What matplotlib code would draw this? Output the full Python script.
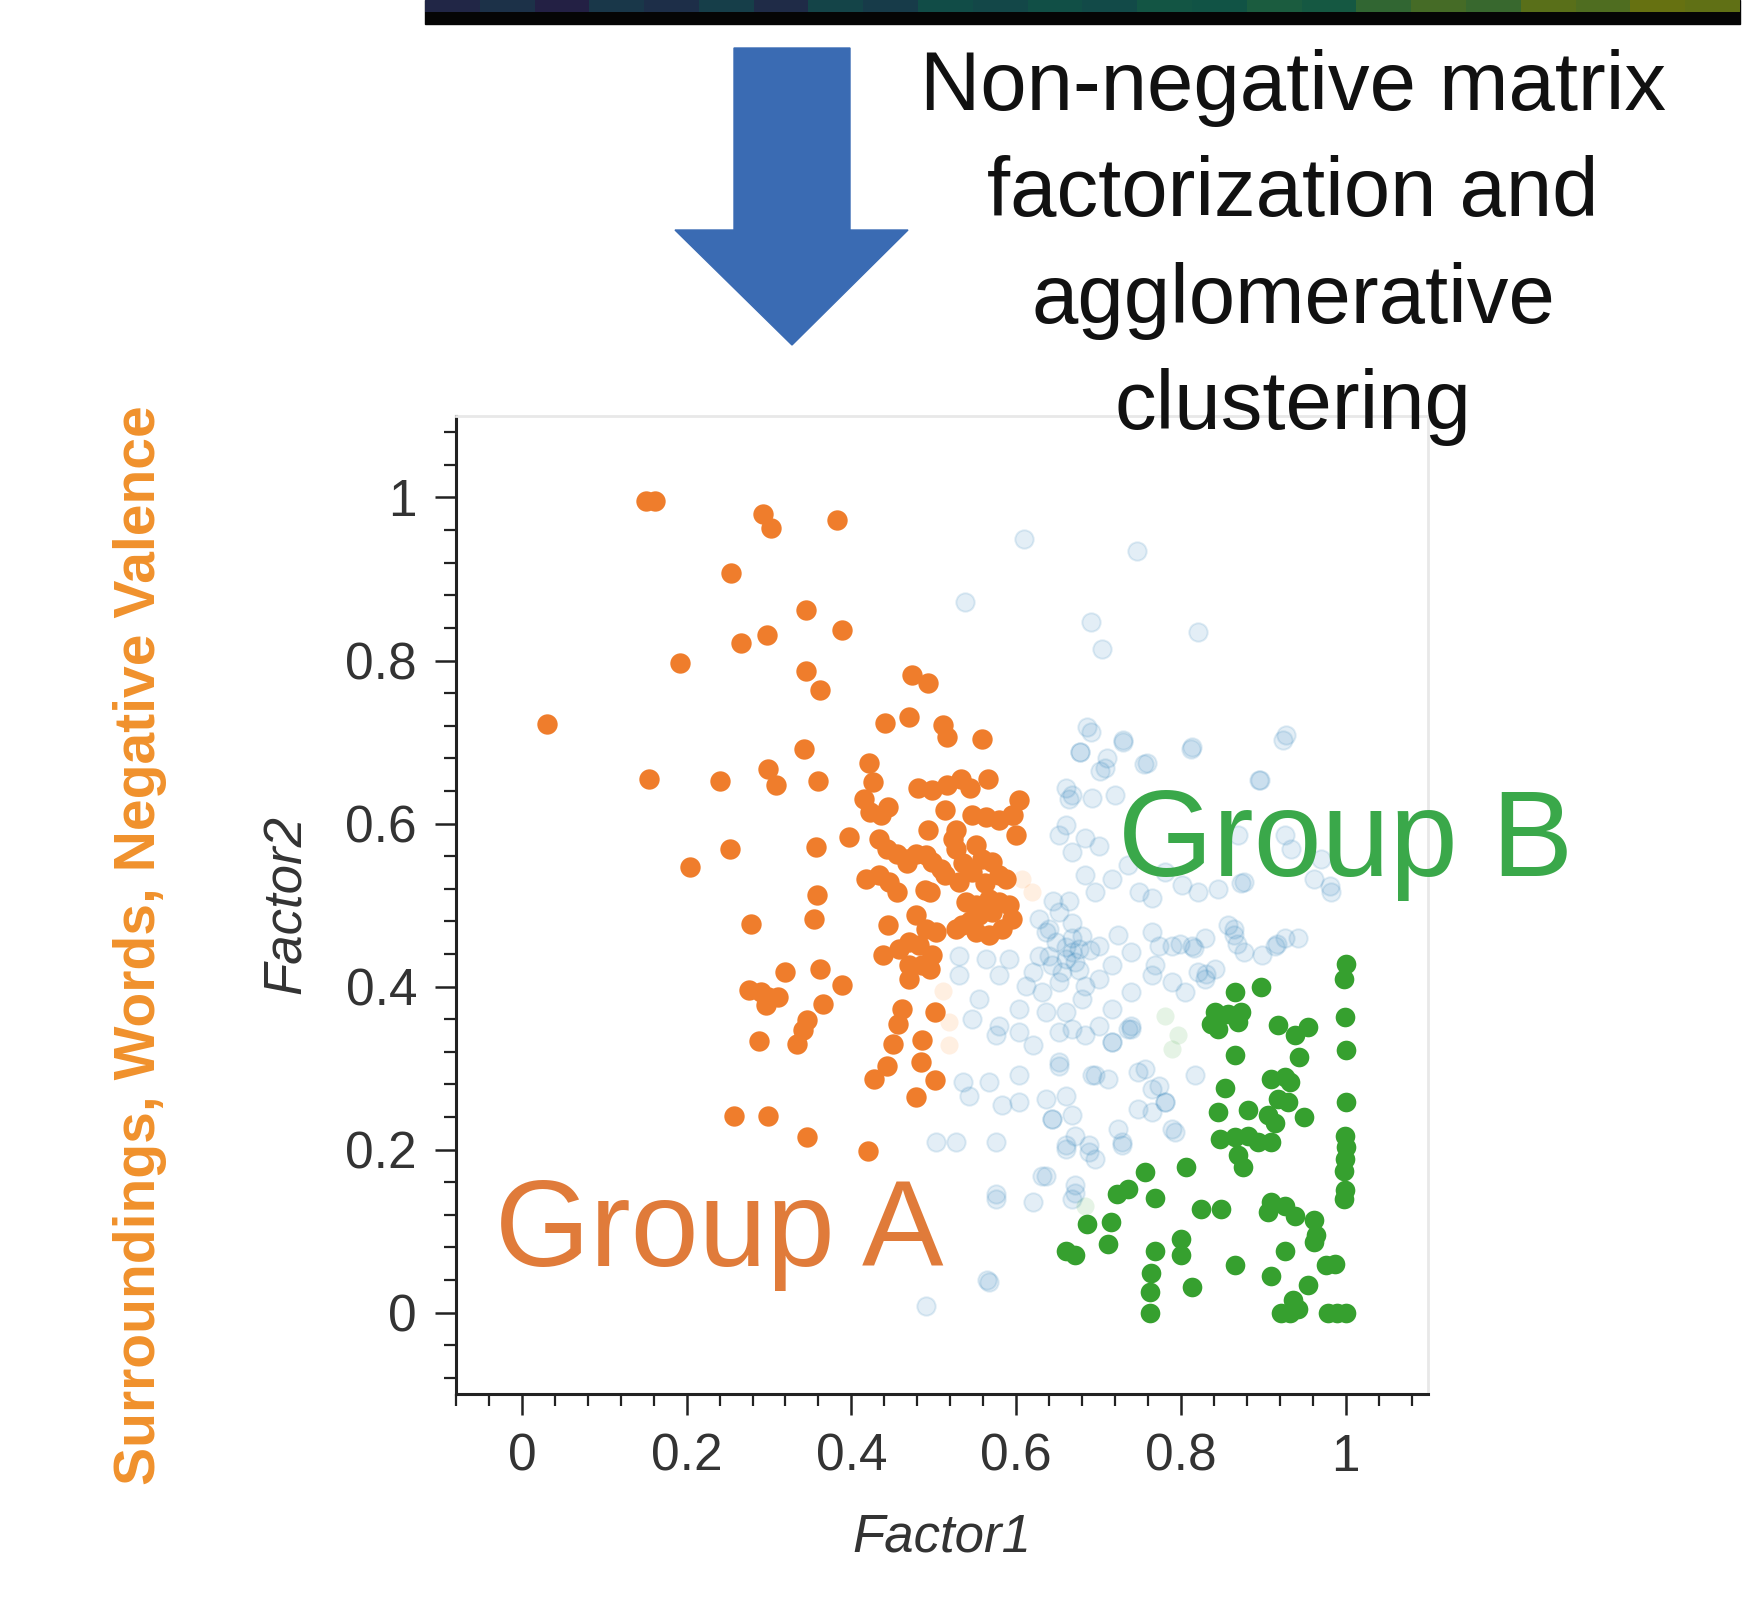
import matplotlib
matplotlib.use("Agg")
import matplotlib.pyplot as plt
from matplotlib.patches import Polygon, Rectangle
from matplotlib.ticker import MultipleLocator, FuncFormatter

plt.rcParams['font.family'] = ['Liberation Sans', 'DejaVu Sans']

# cluster A (orange)
orange_x = [0.030, 0.151, 0.162, 0.293, 0.303, 0.383, 0.254, 0.345, 0.388, 0.266, 0.297, 0.192,
            0.345, 0.362, 0.474, 0.493, 0.441, 0.470, 0.511, 0.516, 0.559, 0.342, 0.154, 0.241,
            0.299, 0.309, 0.360, 0.421, 0.426, 0.415, 0.422, 0.445, 0.436, 0.481, 0.498, 0.516,
            0.533, 0.544, 0.566, 0.514, 0.603, 0.596, 0.600, 0.547, 0.563, 0.579, 0.595, 0.527,
            0.493, 0.397, 0.253, 0.357, 0.204, 0.434, 0.443, 0.455, 0.467, 0.479, 0.491, 0.498,
            0.523, 0.527, 0.551, 0.559, 0.571, 0.509, 0.579, 0.588, 0.531, 0.547, 0.418, 0.434,
            0.446, 0.455, 0.495, 0.358, 0.355, 0.539, 0.551, 0.567, 0.579, 0.591, 0.571, 0.555,
            0.534, 0.551, 0.567, 0.583, 0.595, 0.479, 0.491, 0.503, 0.444, 0.527, 0.278, 0.438,
            0.458, 0.470, 0.482, 0.470, 0.486, 0.498, 0.495, 0.470, 0.319, 0.362, 0.389, 0.276,
            0.290, 0.299, 0.311, 0.296, 0.365, 0.346, 0.341, 0.334, 0.288, 0.462, 0.456, 0.450,
            0.443, 0.428, 0.501, 0.486, 0.484, 0.501, 0.478, 0.258, 0.299, 0.346, 0.420, 0.489,
            0.562, 0.544, 0.514, 0.467, 0.536]
orange_y = [0.722, 0.996, 0.996, 0.980, 0.963, 0.972, 0.907, 0.862, 0.838, 0.821, 0.831, 0.797,
            0.787, 0.764, 0.782, 0.773, 0.723, 0.731, 0.721, 0.706, 0.704, 0.692, 0.655, 0.652,
            0.667, 0.647, 0.652, 0.674, 0.651, 0.630, 0.614, 0.620, 0.611, 0.643, 0.641, 0.647,
            0.655, 0.643, 0.655, 0.617, 0.629, 0.611, 0.586, 0.611, 0.608, 0.604, 0.611, 0.592,
            0.592, 0.583, 0.569, 0.571, 0.547, 0.581, 0.569, 0.563, 0.556, 0.563, 0.561, 0.553,
            0.581, 0.569, 0.574, 0.557, 0.553, 0.544, 0.537, 0.532, 0.528, 0.541, 0.532, 0.537,
            0.528, 0.516, 0.516, 0.512, 0.483, 0.504, 0.500, 0.507, 0.504, 0.500, 0.491, 0.488,
            0.475, 0.467, 0.463, 0.471, 0.483, 0.488, 0.470, 0.467, 0.475, 0.470, 0.477, 0.439,
            0.446, 0.455, 0.451, 0.426, 0.426, 0.439, 0.421, 0.409, 0.418, 0.421, 0.402, 0.396,
            0.393, 0.387, 0.387, 0.377, 0.378, 0.359, 0.347, 0.330, 0.333, 0.372, 0.354, 0.330,
            0.302, 0.287, 0.369, 0.334, 0.307, 0.285, 0.264, 0.241, 0.241, 0.215, 0.198, 0.518,
            0.527, 0.480, 0.537, 0.552, 0.552]

# cluster B (green)
green_x = [1.000, 0.998, 0.999, 1.000, 1.000, 0.999, 1.000, 0.999, 0.998, 0.999, 0.998,
           0.866, 0.897, 0.842, 0.857, 0.873, 0.845, 0.869, 0.837, 0.918, 0.954, 0.938, 0.866,
           0.944, 0.854, 0.909, 0.926, 0.933, 0.918, 0.930, 0.845, 0.881, 0.906, 0.950, 0.914,
           0.848, 0.866, 0.881, 0.894, 0.909, 0.869, 0.875, 0.806, 0.757, 0.722, 0.736, 0.769,
           0.825, 0.849, 0.909, 0.926, 0.938, 0.906, 0.962, 0.964, 0.962, 0.686, 0.715, 0.712,
           0.660, 0.672, 0.769, 0.764, 0.763, 0.763, 0.800, 0.800, 0.813, 0.866, 0.927, 0.909,
           0.976, 0.987, 0.954, 0.936, 0.921, 0.933, 0.942, 0.978, 0.990, 1.000]
green_y = [0.428, 0.409, 0.362, 0.322, 0.258, 0.217, 0.203, 0.188, 0.174, 0.150, 0.139,
           0.393, 0.399, 0.369, 0.366, 0.369, 0.348, 0.356, 0.354, 0.353, 0.350, 0.340, 0.316,
           0.313, 0.276, 0.286, 0.289, 0.283, 0.262, 0.258, 0.246, 0.249, 0.242, 0.240, 0.233,
           0.213, 0.215, 0.217, 0.209, 0.209, 0.193, 0.178, 0.178, 0.172, 0.145, 0.151, 0.141,
           0.127, 0.127, 0.135, 0.131, 0.119, 0.123, 0.114, 0.095, 0.086, 0.108, 0.111, 0.084,
           0.076, 0.071, 0.076, 0.049, 0.025, 0.000, 0.090, 0.070, 0.031, 0.058, 0.076, 0.045,
           0.058, 0.059, 0.034, 0.015, 0.000, 0.000, 0.004, 0.000, 0.000, 0.000]

# unassigned points (faint blue)
blue_x = [0.609, 0.747, 0.538, 0.691, 0.704, 0.821, 0.924, 0.895, 0.691, 0.730, 0.812, 0.678,
          0.708, 0.755, 0.664,
          0.686, 0.678, 0.702, 0.710, 0.730, 0.759, 0.813, 0.928, 0.896, 0.668, 0.692, 0.720,
          0.660, 0.652, 0.668, 0.684, 0.700, 0.684, 0.696, 0.716, 0.736, 0.749, 0.765, 0.781,
          0.801, 0.821, 0.845, 0.877, 0.926, 0.934, 0.970, 0.982, 0.962, 0.869, 0.628, 0.636,
          0.668, 0.676, 0.660, 0.644, 0.628, 0.620, 0.612, 0.632, 0.652, 0.684, 0.700, 0.716,
          0.700, 0.724, 0.740, 0.765, 0.773, 0.789, 0.813, 0.829, 0.857, 0.865, 0.877, 0.914,
          0.926, 0.942, 0.765, 0.789, 0.805, 0.821, 0.841, 0.740, 0.716, 0.740, 0.700, 0.668,
          0.636, 0.603, 0.579, 0.555, 0.547, 0.579, 0.591, 0.563, 0.531, 0.531,
          0.575, 0.603, 0.620, 0.652, 0.660, 0.684, 0.716, 0.740, 0.757, 0.712, 0.692, 0.652,
          0.603, 0.567, 0.535, 0.543, 0.583, 0.603, 0.636, 0.660, 0.644, 0.672, 0.660, 0.688,
          0.696, 0.724, 0.728, 0.748, 0.765, 0.781, 0.789, 0.773, 0.503, 0.527, 0.575, 0.632,
          0.672, 0.668, 0.575, 0.620, 0.567, 0.491,
          0.640, 0.668, 0.680, 0.736, 0.716, 0.652, 0.696, 0.748, 0.781, 0.765, 0.668, 0.644,
          0.728, 0.688, 0.660, 0.793, 0.636, 0.672, 0.817, 0.829, 0.769,
          0.917, 0.898, 0.865, 0.868, 0.830, 0.816, 0.799, 0.981, 0.873, 0.660, 0.565, 0.576,
          0.648, 0.660, 0.672, 0.656, 0.640, 0.668, 0.680, 0.652, 0.664, 0.690, 0.645, 0.676]
blue_y = [0.949, 0.934, 0.872, 0.847, 0.814, 0.835, 0.703, 0.653, 0.712, 0.700, 0.691, 0.688,
          0.668, 0.673, 0.630,
          0.719, 0.688, 0.665, 0.680, 0.702, 0.674, 0.694, 0.708, 0.653, 0.635, 0.631, 0.635,
          0.598, 0.586, 0.565, 0.582, 0.573, 0.537, 0.516, 0.532, 0.549, 0.516, 0.508, 0.541,
          0.524, 0.516, 0.520, 0.528, 0.586, 0.569, 0.557, 0.516, 0.532, 0.586, 0.483, 0.467,
          0.459, 0.446, 0.434, 0.426, 0.438, 0.418, 0.401, 0.393, 0.405, 0.401, 0.409, 0.426,
          0.450, 0.463, 0.442, 0.467, 0.450, 0.450, 0.450, 0.459, 0.475, 0.463, 0.442, 0.450,
          0.459, 0.459, 0.414, 0.405, 0.393, 0.418, 0.422, 0.393, 0.373, 0.352, 0.352, 0.348,
          0.369, 0.373, 0.352, 0.385, 0.360, 0.414, 0.434, 0.434, 0.438, 0.414,
          0.340, 0.344, 0.328, 0.344, 0.369, 0.340, 0.332, 0.348, 0.299, 0.287, 0.291, 0.303,
          0.291, 0.283, 0.283, 0.266, 0.254, 0.258, 0.262, 0.266, 0.238, 0.217, 0.205, 0.205,
          0.188, 0.225, 0.205, 0.250, 0.246, 0.258, 0.225, 0.278, 0.209, 0.209, 0.209, 0.168,
          0.156, 0.139, 0.139, 0.135, 0.037, 0.008,
          0.438, 0.442, 0.385, 0.348, 0.332, 0.307, 0.291, 0.295, 0.258, 0.274, 0.242, 0.237,
          0.209, 0.197, 0.201, 0.221, 0.168, 0.147, 0.291, 0.409, 0.426,
          0.452, 0.439, 0.471, 0.452, 0.415, 0.447, 0.452, 0.523, 0.527, 0.643, 0.040, 0.146,
          0.455, 0.448, 0.430, 0.418, 0.470, 0.478, 0.462, 0.492, 0.505, 0.445, 0.505, 0.420]

# boundary points drawn very faint
faint_orange_x = [0.607, 0.619, 0.519, 0.519, 0.511]
faint_orange_y = [0.532, 0.516, 0.356, 0.328, 0.394]
faint_green_x = [0.781, 0.789, 0.797, 0.684]
faint_green_y = [0.364, 0.323, 0.340, 0.131]

# colours of the heatmap strip at the top edge (left to right)
strip_vals = [0.22, 0.30, 0.18, 0.35, 0.28, 0.40, 0.25, 0.45, 0.38, 0.52, 0.48, 0.55,
              0.50, 0.60, 0.58, 0.66, 0.62, 0.75, 0.82, 0.78, 0.88, 0.85, 0.92, 0.90]

fig = plt.figure(figsize=(17.62, 16.16), dpi=100)

# top strip: black band with a dim coloured row
fig.patches.append(Rectangle((425 / 1762, 1 - 24 / 1616), 1315 / 1762, 24 / 1616,
                             color='#050505', transform=fig.transFigure, zorder=1))
sax = fig.add_axes([425 / 1762, 1 - 24 / 1616, 1315 / 1762, 24 / 1616])
sax.set_zorder(2)
sax.imshow([strip_vals], cmap='viridis', aspect='auto', extent=(0, 1, 0.5, 1),
           vmin=0, vmax=1, alpha=0.5)
sax.set_xlim(0, 1)
sax.set_ylim(0, 1)
sax.axis('off')

# main scatter
ax = fig.add_axes([456 / 1762, 222 / 1616, 972 / 1762, 978 / 1616])
ax.scatter(blue_x, blue_y, s=175, facecolor=(0.12, 0.47, 0.71, 0.12),
           edgecolor=(0.12, 0.47, 0.71, 0.14), linewidths=1.4, zorder=2)
ax.scatter(faint_orange_x, faint_orange_y, s=170, color='#ff7f0e', alpha=0.12, linewidths=0, zorder=2)
ax.scatter(faint_green_x, faint_green_y, s=170, color='#2ca02c', alpha=0.12, linewidths=0, zorder=2)
ax.scatter(orange_x, orange_y, s=215, color='#ef7d2c', linewidths=0, zorder=3)
ax.scatter(green_x, green_y, s=200, color='#36a02f', linewidths=0, zorder=3)

ax.set_xlim(-0.08, 1.1)
ax.set_ylim(-0.1, 1.1)

fmt = FuncFormatter(lambda v, p: '0' if abs(v) < 1e-9 else ('1' if abs(v - 1) < 1e-9 else '%g' % v))
for axis in (ax.xaxis, ax.yaxis):
    axis.set_major_locator(MultipleLocator(0.2))
    axis.set_minor_locator(MultipleLocator(0.04))
    axis.set_major_formatter(fmt)
ax.tick_params(which='major', direction='out', length=15, width=1.8, color='#222222',
               labelsize=37, labelcolor='#333333', pad=13)
ax.tick_params(which='minor', direction='out', length=8.5, width=1.6, color='#222222')
ax.xaxis.set_ticks_position('bottom')
ax.yaxis.set_ticks_position('left')
for side in ('left', 'bottom'):
    ax.spines[side].set_linewidth(2.2)
    ax.spines[side].set_color('#222222')
for side in ('top', 'right'):
    ax.spines[side].set_linewidth(2)
    ax.spines[side].set_color('#e8e8e8')

ax.set_xlabel('Factor1', fontsize=38, style='italic', color='#333333', labelpad=22)
ax.set_ylabel('Factor2', fontsize=38, style='italic', color='#333333', labelpad=24)

ax.text(-0.033, 0.057, 'Group A', fontsize=88, color='#e07b3a', zorder=4)
ax.text(0.724, 0.536, 'Group B', fontsize=88, color='#3aa84a', zorder=4, clip_on=False)

# outer label
fig.text(140 / 1762, 1 - 945 / 1616, 'Surroundings, Words, Negative Valence', rotation=90,
         ha='center', va='center', fontsize=41, fontweight='bold', color='#f0912c',
         family=['Liberation Sans Narrow', 'Liberation Sans', 'DejaVu Sans'])

# arrow (figure pixel outline converted to figure fraction)
arrow_px = [(734, 48), (850, 48), (850, 230), (908, 230), (792, 345), (675, 230), (734, 230)]
fig.patches.append(Polygon([(px / 1762, 1 - py / 1616) for px, py in arrow_px],
                           closed=True, color='#3a6bb3', transform=fig.transFigure))

lines = ['Non-negative matrix', 'factorization and', 'agglomerative', 'clustering']
baselines = [110, 216, 323, 429]
for txt, yb in zip(lines, baselines):
    fig.text(1293 / 1762, 1 - yb / 1616, txt, ha='center', va='baseline',
             fontsize=60, color='#111111')

fig.savefig('out.png', dpi=100)
